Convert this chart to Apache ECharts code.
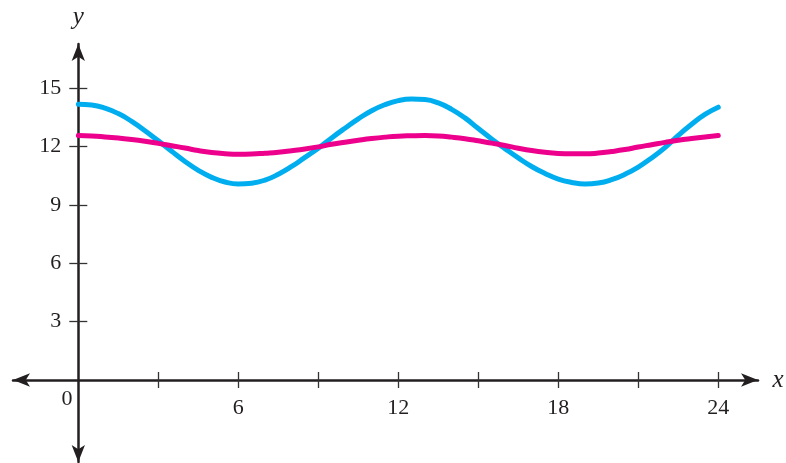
<!DOCTYPE html>
<html>
<head>
<meta charset="utf-8">
<script src="https://cdn.jsdelivr.net/npm/echarts@6/dist/echarts.min.js"></script>
<style>html,body{margin:0;padding:0;background:#fff}#c{width:786px;height:463px}</style>
</head>
<body>
<div id="c"></div>
<script>
// Data (x = hours, half-hour steps)
var hours = [0,0.5,1,1.5,2,2.5,3,3.5,4,4.5,5,5.5,6,6.5,7,7.5,8,8.5,9,9.5,10,10.5,11,11.5,12,12.5,13,13.5,14,14.5,15,15.5,16,16.5,17,17.5,18,18.5,19,19.5,20,20.5,21,21.5,22,22.5,23,23.5,24];
var blueValues = [14.18,14.14,13.98,13.7,13.3,12.82,12.3,11.76,11.24,10.78,10.42,10.18,10.08,10.12,10.28,10.58,10.98,11.45,11.92,12.45,12.95,13.43,13.85,14.16,14.37,14.45,14.42,14.25,13.92,13.48,12.93,12.4,11.9,11.42,10.98,10.62,10.33,10.16,10.08,10.13,10.3,10.58,10.95,11.42,11.95,12.58,13.15,13.66,14.03];
var magentaValues = [12.57,12.55,12.5,12.44,12.37,12.28,12.17,12.05,11.93,11.8,11.7,11.64,11.61,11.62,11.66,11.71,11.79,11.88,11.99,12.12,12.23,12.33,12.42,12.49,12.54,12.56,12.57,12.55,12.49,12.41,12.3,12.18,12.06,11.92,11.8,11.71,11.65,11.63,11.63,11.67,11.75,11.85,11.98,12.1,12.22,12.33,12.42,12.5,12.57];
var xTickValues = [3,6,9,12,15,18,21,24];
var xLabelValues = [6,12,18,24];
var yTickValues = [3,6,9,12,15];

var blueColor = '#00AEEF', magentaColor = '#EC008C', axisColor = '#231F20';
var serif = '"Liberation Serif","DejaVu Serif",serif';

var xMin = -2.45, xMax = 25.49, yMin = -4.22, yMax = 17.28;
var gridPos = {left: 13, right: 28, top: 44, bottom: 1, containLabel: false, outerBoundsMode: 'none'};
// offsets that move the axes from the grid edges to the origin lines
var axisOffsets = {bottom: -82, top: -336, left: -65.3, right: -679.7};

function pairs(xs, ys){ return xs.map(function(x,i){ return [x, ys[i]]; }); }

function xAxisDef(pos, main){
  return {
    type: 'value', min: xMin, max: xMax, gridIndex: 0, position: pos, offset: axisOffsets[pos],
    axisLine: {show: true, onZero: false, symbol: main ? ['arrow','arrow'] : 'none', symbolSize: [10,17],
      lineStyle: {color: axisColor, width: 2.5, opacity: main ? 1 : 0}},
    axisTick: {show: true, inside: false, length: 8, customValues: xTickValues, lineStyle: {color: '#333', width: 1.3}},
    axisLabel: main ? {show: true, customValues: xLabelValues, margin: 17, color: '#231F20', fontFamily: serif, fontSize: 22} : {show: false},
    splitLine: {show: false},
    name: main ? 'x' : '', nameLocation: 'end', nameGap: 14.5,
    nameTextStyle: {fontFamily: serif, fontStyle: 'italic', fontSize: 25, color: axisColor, verticalAlign: 'middle', padding: [0,0,6,0]}
  };
}
function yAxisDef(pos, main){
  return {
    type: 'value', min: yMin, max: yMax, gridIndex: 0, position: pos, offset: axisOffsets[pos],
    axisLine: {show: true, onZero: false, symbol: main ? ['arrow','arrow'] : 'none', symbolSize: [10,17],
      lineStyle: {color: axisColor, width: 2.5, opacity: main ? 1 : 0}},
    axisTick: {show: true, inside: false, length: 9, customValues: yTickValues, lineStyle: {color: '#333', width: 1.3}},
    axisLabel: main ? {show: true, customValues: yTickValues, margin: 17, color: '#231F20', fontFamily: serif, fontSize: 22} : {show: false},
    splitLine: {show: false},
    name: main ? 'y' : '', nameLocation: 'end', nameGap: 14,
    nameTextStyle: {fontFamily: serif, fontStyle: 'italic', fontSize: 25, color: axisColor, align: 'center'}
  };
}

var chart = echarts.init(document.getElementById('c'), null, {renderer: 'canvas'});
chart.setOption({
  animation: false,
  backgroundColor: '#fff',
  grid: gridPos,
  xAxis: [xAxisDef('bottom', true), xAxisDef('top', false)],
  yAxis: [yAxisDef('left', true), yAxisDef('right', false)],
  graphic: [{
    type: 'text', left: 61.5, top: 388,
    style: {text: '0', font: '22px ' + serif, fill: '#231F20'}
  }],
  series: [
    {type: 'line', xAxisIndex: 0, yAxisIndex: 0, data: pairs(hours, blueValues), smooth: true, showSymbol: false,
     lineStyle: {color: blueColor, width: 5, cap: 'round'}},
    {type: 'line', xAxisIndex: 0, yAxisIndex: 0, data: pairs(hours, magentaValues), smooth: true, showSymbol: false,
     lineStyle: {color: magentaColor, width: 5, cap: 'round'}}
  ]
});
</script>
</body>
</html>
